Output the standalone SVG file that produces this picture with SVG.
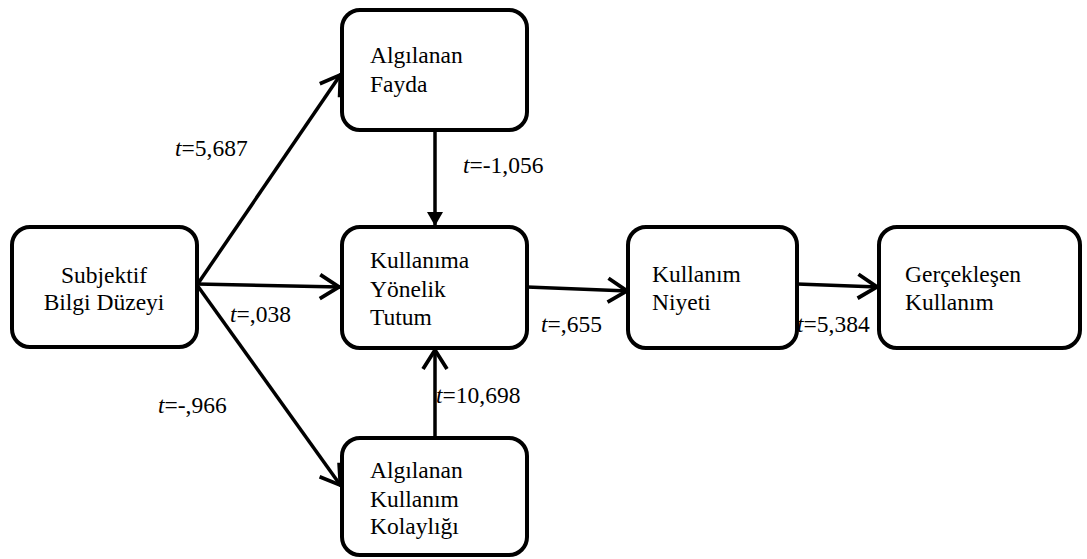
<svg xmlns="http://www.w3.org/2000/svg" width="1087" height="559" viewBox="0 0 1087 559">
<style>
.box{fill:#fff;stroke:#000;stroke-width:4}
.t{font-family:"Liberation Serif","DejaVu Serif",serif;font-size:23.5px;fill:#000}
.e{stroke:#000;stroke-width:3.5;fill:none}
.open{marker-end:url(#mo)}
.fill{marker-end:url(#mf)}
</style>
<defs>
<marker id="mo" markerUnits="userSpaceOnUse" markerWidth="30" markerHeight="30" viewBox="-24 -15 30 30" refX="0" refY="0" orient="auto" overflow="visible">
<path d="M-20,-12 L-1,0 L-20,12" fill="none" stroke="#000" stroke-width="3.8" stroke-linejoin="miter"/>
</marker>
<marker id="mf" markerUnits="userSpaceOnUse" markerWidth="30" markerHeight="30" viewBox="-24 -15 30 30" refX="0" refY="0" orient="auto" overflow="visible">
<path d="M-14,-8 L0,0 L-14,8 Z" fill="#000"/>
</marker>
</defs>
<g id="connectors">
<line class="e open" x1="197" y1="285" x2="341" y2="74"/>
<line class="e open" x1="197" y1="284" x2="340" y2="287"/>
<line class="e open" x1="197" y1="285" x2="341" y2="486"/>
<line class="e fill" x1="435" y1="130" x2="435" y2="226"/>
<line class="e open" x1="435" y1="438" x2="435" y2="349"/>
<line class="e open" x1="527" y1="287" x2="628" y2="291"/>
<line class="e open" x1="797" y1="284" x2="878" y2="287"/>
</g>
<g id="n-subjektif">
<rect class="box" x="12" y="227" width="185" height="120" rx="18"/>
<text class="t" x="104" y="283" text-anchor="middle">Subjektif</text>
<text class="t" x="104" y="310" text-anchor="middle">Bilgi Düzeyi</text>
</g>
<g id="n-fayda">
<rect class="box" x="342" y="10" width="185" height="120" rx="18"/>
<text class="t" x="370" y="63">Algılanan</text>
<text class="t" x="370" y="92">Fayda</text>
</g>
<g id="n-tutum">
<rect class="box" x="342" y="227" width="185" height="121" rx="18"/>
<text class="t" x="370" y="268">Kullanıma</text>
<text class="t" x="370" y="297">Yönelik</text>
<text class="t" x="370" y="325">Tutum</text>
</g>
<g id="n-kolaylik">
<rect class="box" x="342" y="438" width="185" height="117" rx="18"/>
<text class="t" x="370" y="478">Algılanan</text>
<text class="t" x="370" y="507">Kullanım</text>
<text class="t" x="370" y="534">Kolaylığı</text>
</g>
<g id="n-niyeti">
<rect class="box" x="628" y="227" width="169" height="121" rx="18"/>
<text class="t" x="652" y="282">Kullanım</text>
<text class="t" x="652" y="310">Niyeti</text>
</g>
<g id="n-gercek">
<rect class="box" x="879" y="227" width="201" height="121" rx="18"/>
<text class="t" x="905" y="282">Gerçekleşen</text>
<text class="t" x="905" y="310">Kullanım</text>
</g>
<g id="labels">
<text class="t" x="175" y="156"><tspan font-style="italic">t</tspan>=5,687</text>
<text class="t" x="230" y="322"><tspan font-style="italic">t</tspan>=,038</text>
<text class="t" x="158" y="413"><tspan font-style="italic">t</tspan>=-,966</text>
<text class="t" x="463" y="173"><tspan font-style="italic">t</tspan>=-1,056</text>
<text class="t" x="436" y="403"><tspan font-style="italic">t</tspan>=10,698</text>
<text class="t" x="541" y="332"><tspan font-style="italic">t</tspan>=,655</text>
<text class="t" x="797" y="332"><tspan font-style="italic">t</tspan>=5,384</text>
</g>
</svg>
